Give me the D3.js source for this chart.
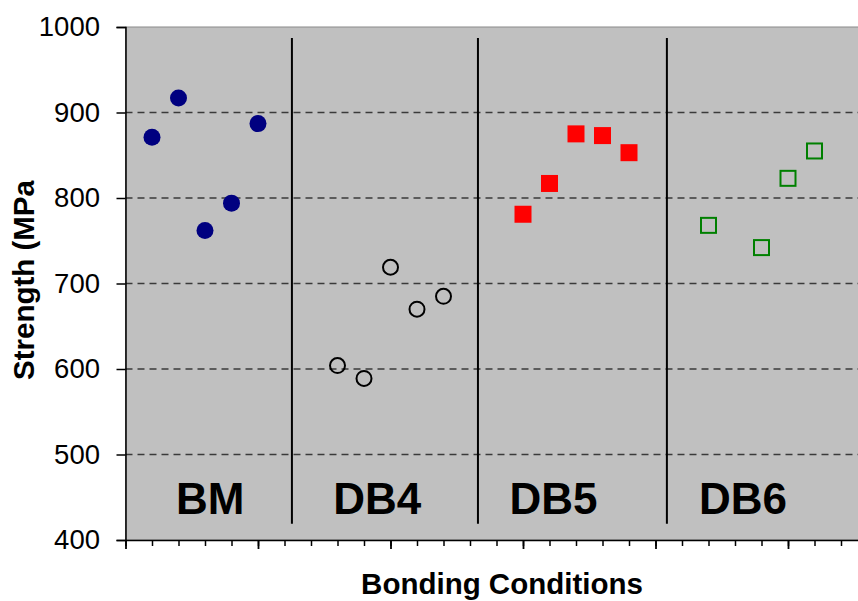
<!DOCTYPE html>
<html>
<head>
<meta charset="utf-8">
<script src="https://cdn.jsdelivr.net/npm/d3@7"></script>
<style>
  html, body { margin: 0; padding: 0; background: #fff; overflow: hidden; }
  svg { display: block; }
  text { font-family: "Liberation Sans", Arial, sans-serif; }
</style>
</head>
<body>
<svg id="chart" width="858" height="601"></svg>
<script>
// ---- data ----
const categories = ["BM", "DB4", "DB5", "DB6"];
const categoryLabelX = [3.2, 9.5, 16.15, 23.3];
const separatorX = [6.28, 13.3, 20.43];

const bmX = [1, 2, 3, 4, 5];
const bmY = [871, 917, 762, 794, 887];
const db4X = [8, 9, 10, 11, 12];
const db4Y = [604, 589, 719, 670, 685];
const db5X = [15, 16, 17, 18, 19];
const db5Y = [781, 817, 875, 873, 853];
const db6X = [22, 24, 25, 26];
const db6Y = [768, 742, 823, 855];

const yTicks = [400, 500, 600, 700, 800, 900, 1000];
const gridValues = [500, 600, 700, 800, 900];
const xMajorTicks = [0, 5, 10, 15, 20, 25];
const xMinorTicks = d3.range(0, 29);

const yTitle = "Strength (MPa)";
const xTitle = "Bonding Conditions";

// ---- layout ----
const svg = d3.select("#chart");
const plotLeft = 125.5, plotTop = 27, plotBottom = 540, unit = 26.5;
const x = d3.scaleLinear().domain([0, 28]).range([plotLeft, plotLeft + 28 * unit]);
const y = d3.scaleLinear().domain([400, 1000]).range([plotBottom, plotTop]);

// plot area
svg.append("rect")
  .attr("x", x(0)).attr("y", y(1000))
  .attr("width", x(28) - x(0)).attr("height", y(400) - y(1000))
  .attr("fill", "#c0c0c0").attr("stroke", "#8a8a8a").attr("stroke-width", 1);

// gridlines
svg.append("g").selectAll("line").data(gridValues).join("line")
  .attr("x1", x(0)).attr("x2", x(28))
  .attr("y1", d => y(d)).attr("y2", d => y(d))
  .attr("stroke", "#3a3a3a").attr("stroke-width", 1.5)
  .attr("stroke-dasharray", "7,5");

// separators
svg.append("g").selectAll("line").data(separatorX).join("line")
  .attr("x1", d => x(d)).attr("x2", d => x(d))
  .attr("y1", y(987)).attr("y2", y(419))
  .attr("stroke", "#000").attr("stroke-width", 2);

// y axis
const yAxis = svg.append("g")
  .attr("transform", `translate(${plotLeft},0)`)
  .call(d3.axisLeft(y).tickValues(yTicks).tickSize(9).tickPadding(16.5).tickFormat(d3.format("d")));
yAxis.select(".domain").attr("stroke", "#000").attr("stroke-width", 1.5);
yAxis.selectAll(".tick line").attr("stroke", "#000").attr("stroke-width", 1.5);
yAxis.selectAll(".tick text")
  .attr("font-size", 27.5).attr("fill", "#000")
  .style("font-family", '"Liberation Sans", Arial, sans-serif');

// x axis: minor + major ticks
const xMinor = svg.append("g")
  .attr("transform", `translate(0,${plotBottom})`)
  .call(d3.axisBottom(x).tickValues(xMinorTicks).tickSize(6).tickFormat(""));
xMinor.select(".domain").remove();
xMinor.selectAll(".tick line").attr("stroke", "#000").attr("stroke-width", 1.5);

const xMajor = svg.append("g")
  .attr("transform", `translate(0,${plotBottom})`)
  .call(d3.axisBottom(x).tickValues(xMajorTicks).tickSize(9).tickFormat("").tickSizeOuter(0));
xMajor.select(".domain").attr("stroke", "#000").attr("stroke-width", 1.5);
xMajor.selectAll(".tick line").attr("stroke", "#000").attr("stroke-width", 1.8);

// category labels
svg.append("g").selectAll("text").data(categories).join("text")
  .attr("x", (d, i) => x(categoryLabelX[i]))
  .attr("y", 514)
  .attr("text-anchor", "middle")
  .attr("font-size", 44).attr("font-weight", "bold").attr("fill", "#000")
  .text(d => d);

// series
const pts = (xs, ys) => xs.map((v, i) => ({x: v, y: ys[i]}));

svg.append("g").selectAll("circle").data(pts(bmX, bmY)).join("circle")
  .attr("cx", d => x(d.x)).attr("cy", d => y(d.y)).attr("r", 8.5)
  .attr("fill", "#000080");

svg.append("g").selectAll("circle").data(pts(db4X, db4Y)).join("circle")
  .attr("cx", d => x(d.x)).attr("cy", d => y(d.y)).attr("r", 7.5)
  .attr("fill", "none").attr("stroke", "#000").attr("stroke-width", 2);

svg.append("g").selectAll("rect").data(pts(db5X, db5Y)).join("rect")
  .attr("x", d => x(d.x) - 8.5).attr("y", d => y(d.y) - 8.5)
  .attr("width", 17).attr("height", 17)
  .attr("fill", "#ff0000");

svg.append("g").selectAll("rect").data(pts(db6X, db6Y)).join("rect")
  .attr("x", d => x(d.x) - 7.5).attr("y", d => y(d.y) - 7.5)
  .attr("width", 15).attr("height", 15)
  .attr("fill", "none").attr("stroke", "#008000").attr("stroke-width", 2);

// y title (clipped at top like the reference)
const defs = svg.append("defs");
defs.append("clipPath").attr("id", "ytclip")
  .append("rect").attr("x", 0).attr("y", 180.5).attr("width", 60).attr("height", 400);
svg.append("g").attr("clip-path", "url(#ytclip)")
  .append("text")
  .attr("transform", "translate(34,380) rotate(-90)")
  .attr("text-anchor", "start")
  .attr("font-size", 29.5).attr("font-weight", "bold").attr("fill", "#000")
  .text(yTitle);

// x title
svg.append("text")
  .attr("x", 502).attr("y", 594)
  .attr("text-anchor", "middle")
  .attr("font-size", 29.5).attr("font-weight", "bold").attr("fill", "#000")
  .text(xTitle);
</script>
</body>
</html>
